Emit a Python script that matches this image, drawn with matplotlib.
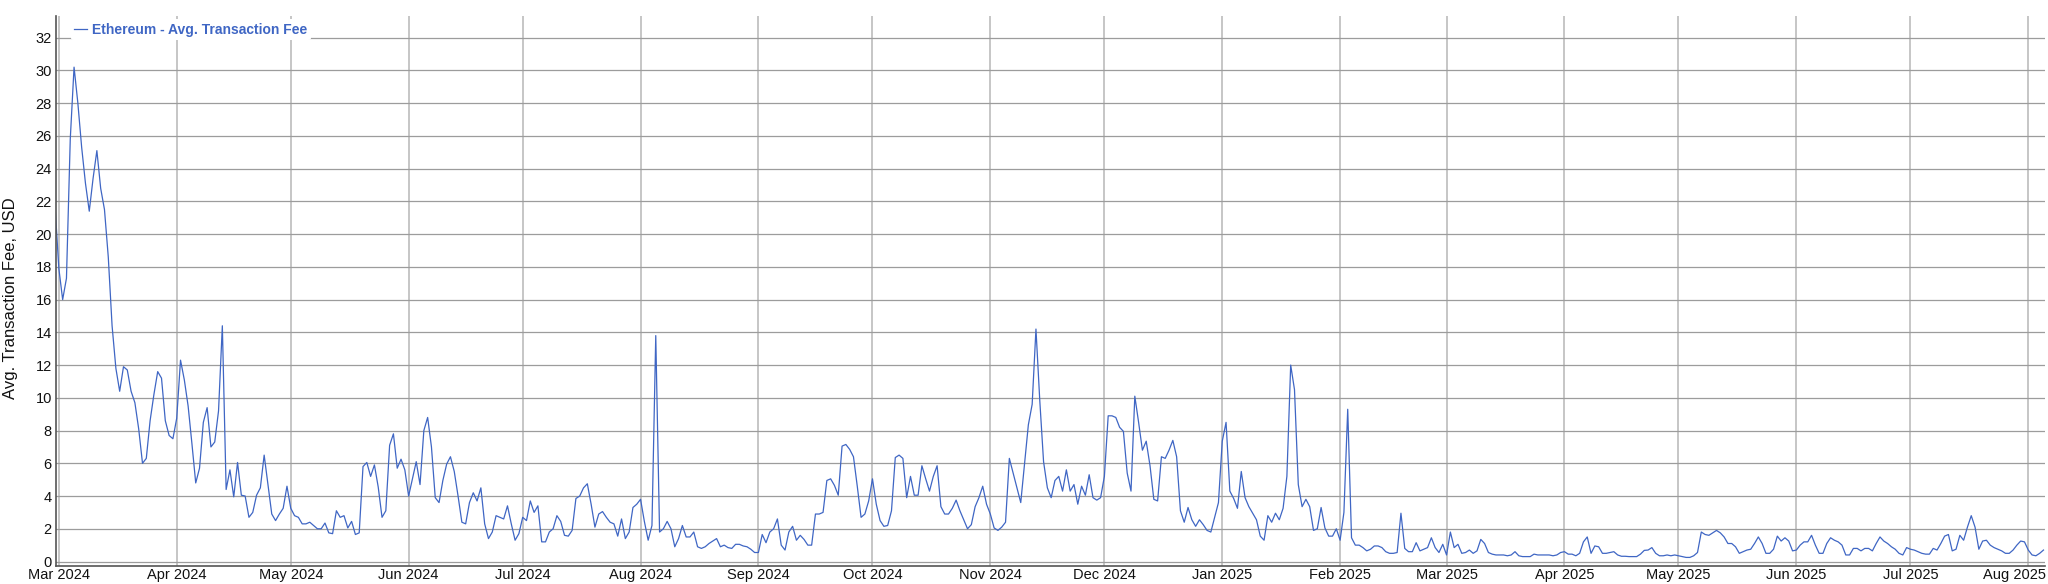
import matplotlib
matplotlib.use("Agg")
import matplotlib.pyplot as plt
import matplotlib.dates as mdates
import matplotlib.transforms as mtransforms
import numpy as np
import pandas as pd

plt.rcParams['font.family'] = ['Liberation Sans', 'DejaVu Sans']

# daily average Ethereum transaction fee, USD, starting 2024-02-29
feb_2024 = [21.7]
mar_2024 = [17.9, 16.0, 17.3, 25.8, 30.2, 28.0, 25.3, 23.1, 21.4, 23.4,
            25.1, 22.8, 21.5, 18.6, 14.4, 11.8, 10.4, 11.9, 11.7, 10.4,
            9.7, 8.1, 6.0, 6.3, 8.6, 10.2, 11.6, 11.2, 8.6, 7.7, 7.5]
apr_2024 = [8.75, 12.3, 11.1, 9.5, 7.2, 4.8, 5.7, 8.5, 9.4, 7.0,
            7.3, 9.2, 14.4, 4.4, 5.6, 3.95, 6.05, 4.05, 4.0, 2.7,
            3.0, 4.05, 4.5, 6.5, 4.7, 2.9, 2.5, 2.9, 3.25, 4.6]
may_2024 = [3.25, 2.8, 2.7, 2.3, 2.3, 2.4, 2.2, 2.0, 2.0, 2.35,
            1.75, 1.7, 3.1, 2.7, 2.8, 2.05, 2.45, 1.65, 1.75, 5.8,
            6.05, 5.2, 5.9, 4.55, 2.7, 3.1, 7.1, 7.8, 5.7, 6.25, 5.6]
jun_2024 = [4.0, 5.05, 6.1, 4.7, 8.0, 8.8, 7.0, 3.9, 3.6, 4.95,
            5.95, 6.4, 5.5, 4.0, 2.4, 2.3, 3.6, 4.2, 3.7, 4.5,
            2.3, 1.4, 1.8, 2.8, 2.7, 2.6, 3.4, 2.3, 1.3, 1.7]
jul_2024 = [2.7, 2.5, 3.7, 3.0, 3.4, 1.2, 1.2, 1.8, 2.0, 2.8,
            2.45, 1.6, 1.55, 1.9, 3.85, 4.0, 4.5, 4.75, 3.5, 2.1,
            2.9, 3.05, 2.7, 2.4, 2.3, 1.55, 2.6, 1.4, 1.8, 3.3, 3.5]
aug_2024 = [3.8, 2.45, 1.3, 2.2, 13.8, 1.8, 2.0, 2.45, 2.0, 0.9,
            1.4, 2.2, 1.5, 1.5, 1.8, 0.9, 0.8, 0.9, 1.1, 1.25,
            1.4, 0.9, 1.0, 0.85, 0.8, 1.05, 1.05, 0.95, 0.9, 0.75, 0.55]
sep_2024 = [0.55, 1.65, 1.15, 1.8, 2.0, 2.6, 1.0, 0.7, 1.8, 2.15,
            1.3, 1.6, 1.35, 1.0, 1.0, 2.9, 2.9, 3.0, 4.95, 5.05,
            4.65, 4.05, 7.05, 7.15, 6.85, 6.4, 4.6, 2.7, 2.9, 3.7]
oct_2024 = [5.05, 3.5, 2.5, 2.15, 2.2, 3.1, 6.35, 6.5, 6.3, 3.9,
            5.2, 4.05, 4.05, 5.85, 5.05, 4.3, 5.2, 5.85, 3.35, 2.9,
            2.9, 3.25, 3.75, 3.1, 2.55, 2.0, 2.25, 3.35, 3.9, 4.6, 3.5]
nov_2024 = [2.9, 2.05, 1.9, 2.1, 2.4, 6.3, 5.4, 4.5, 3.6, 6.0,
            8.35, 9.6, 14.2, 9.85, 6.1, 4.5, 3.9, 4.95, 5.2, 4.3,
            5.6, 4.3, 4.7, 3.5, 4.6, 4.05, 5.3, 3.9, 3.75, 3.9]
dec_2024 = [5.2, 8.9, 8.9, 8.8, 8.2, 7.95, 5.4, 4.3, 10.1, 8.5,
            6.8, 7.35, 5.85, 3.8, 3.7, 6.4, 6.3, 6.8, 7.4, 6.4,
            3.1, 2.4, 3.3, 2.55, 2.15, 2.55, 2.25, 1.9, 1.8, 2.7, 3.6]
jan_2025 = [7.35, 8.5, 4.3, 3.85, 3.25, 5.5, 3.9, 3.35, 2.95, 2.55,
            1.55, 1.3, 2.8, 2.4, 2.95, 2.55, 3.25, 5.2, 12.0, 10.5,
            4.7, 3.35, 3.8, 3.35, 1.9, 2.0, 3.3, 2.05, 1.55, 1.55, 2.0]
feb_2025 = [1.3, 3.0, 9.3, 1.45, 1.0, 1.0, 0.85, 0.65, 0.75, 0.95,
            0.95, 0.85, 0.6, 0.5, 0.5, 0.55, 2.95, 0.8, 0.6, 0.6,
            1.15, 0.65, 0.75, 0.85, 1.45, 0.85, 0.55, 1.05]
mar_2025 = [0.4, 1.8, 0.85, 1.05, 0.5, 0.55, 0.7, 0.5, 0.65, 1.35,
            1.1, 0.55, 0.45, 0.4, 0.4, 0.4, 0.35, 0.4, 0.6, 0.35,
            0.3, 0.3, 0.3, 0.45, 0.4, 0.4, 0.4, 0.4, 0.35, 0.4, 0.55]
apr_2025 = [0.6, 0.45, 0.45, 0.35, 0.5, 1.2, 1.5, 0.5, 0.95, 0.9,
            0.5, 0.5, 0.55, 0.6, 0.4, 0.32, 0.32, 0.3, 0.3, 0.3,
            0.45, 0.68, 0.7, 0.85, 0.5, 0.35, 0.35, 0.4, 0.35, 0.4]
may_2025 = [0.35, 0.3, 0.25, 0.25, 0.35, 0.55, 1.8, 1.65, 1.6, 1.75,
            1.9, 1.75, 1.5, 1.1, 1.1, 0.9, 0.5, 0.6, 0.7, 0.75,
            1.1, 1.5, 1.1, 0.5, 0.5, 0.75, 1.55, 1.25, 1.45, 1.25, 0.65]
jun_2025 = [0.7, 1.0, 1.2, 1.2, 1.6, 1.0, 0.5, 0.5, 1.1, 1.45,
            1.3, 1.2, 1.0, 0.4, 0.4, 0.8, 0.8, 0.65, 0.8, 0.8,
            0.65, 1.1, 1.5, 1.25, 1.1, 0.9, 0.75, 0.5, 0.4, 0.85]
jul_2025 = [0.75, 0.7, 0.6, 0.5, 0.45, 0.45, 0.8, 0.7, 1.1, 1.55,
            1.65, 0.65, 0.75, 1.6, 1.3, 2.1, 2.8, 2.1, 0.75, 1.25,
            1.3, 1.0, 0.85, 0.75, 0.65, 0.5, 0.5, 0.7, 1.0, 1.25, 1.2]
aug_2025 = [0.7, 0.4, 0.35, 0.5, 0.7]

fee = (feb_2024 + mar_2024 + apr_2024 + may_2024 + jun_2024 + jul_2024 + aug_2024
       + sep_2024 + oct_2024 + nov_2024 + dec_2024 + jan_2025 + feb_2025 + mar_2025
       + apr_2025 + may_2025 + jun_2025 + jul_2025 + aug_2025)
dates = pd.date_range("2024-02-29", periods=len(fee), freq="D")

line_color = "#3f66c4"

fig = plt.figure(figsize=(20.48, 5.84), dpi=100)
ax = fig.add_axes([56 / 2048, 1 - 565.6 / 584, 1989 / 2048, 549.2 / 584])

ax.plot(dates, fee, color=line_color, lw=0.9, label="Ethereum - Avg. Transaction Fee")

start = pd.Timestamp("2024-03-01")
ax.set_xlim(start - pd.Timedelta(days=0.75), start + pd.Timedelta(days=522.4))
ax.set_ylim(-0.25, 33.3)
ax.set_yticks(np.arange(0, 33, 2))

ax.xaxis.set_major_locator(mdates.MonthLocator())
ax.xaxis.set_major_formatter(mdates.DateFormatter("%b %Y"))

ax.grid(axis="y", color="#9c9c9c", lw=0.9)
ax.grid(axis="x", color="#c6c6c6", lw=1.4)
ax.set_axisbelow(True)

for s in ["top", "right"]:
    ax.spines[s].set_visible(False)
for s in ["left", "bottom"]:
    ax.spines[s].set_color("#555555")
    ax.spines[s].set_linewidth(1.2)

ax.tick_params(axis="both", length=0, labelsize=10.5, colors="#111111")
ax.tick_params(axis="x", pad=2)
ax.tick_params(axis="y", pad=3)

# last month label is pushed left so it stays inside the figure
fig.canvas.draw()
last = ax.get_xticklabels()[-1]
last.set_transform(last.get_transform() + mtransforms.ScaledTranslation(-0.14, 0, fig.dpi_scale_trans))

fig.text(10.5 / 2048, 1 - 298 / 584, "Avg. Transaction Fee, USD", rotation=90,
         ha="center", va="center", fontsize=12, color="#111111")

leg = ax.legend(loc="upper left", bbox_to_anchor=(0.0075, 0.9945), fontsize=10,
                handlelength=0.9, handletextpad=0.4, borderpad=0.25,
                borderaxespad=0, frameon=True, facecolor="white",
                edgecolor="none", framealpha=1)
for t in leg.get_texts():
    t.set_color(line_color)
    t.set_fontweight("bold")

fig.savefig("out.png", dpi=100)
